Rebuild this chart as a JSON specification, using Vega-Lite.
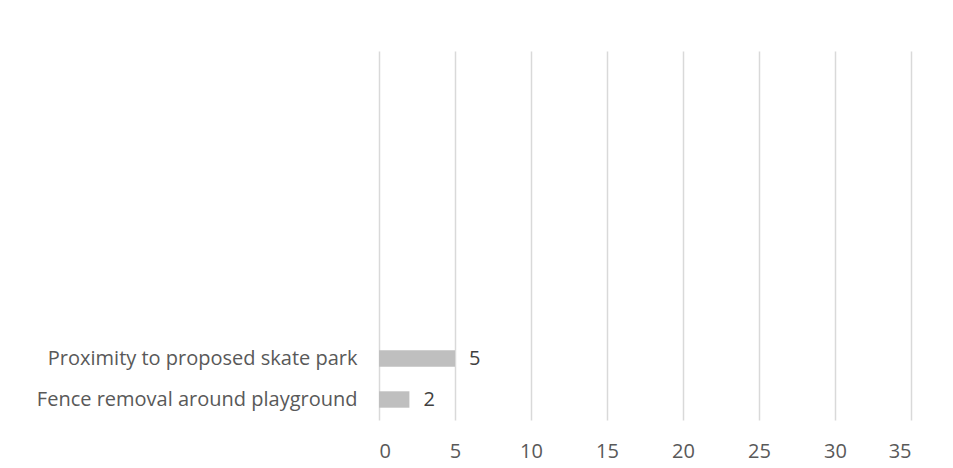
{
  "$schema": "https://vega.github.io/schema/vega-lite/v6.json",
  "autosize": {"type": "none"},
  "padding": {"left": 379, "top": 51, "right": 42, "bottom": 48},
  "width": 532,
  "height": 369,
  "background": "white",
  "config": {
    "view": {"stroke": null},
    "font": "Open Sans"
  },
  "data": {
    "values": [
      {"category": "Proximity to proposed skate park", "count": 5},
      {"category": "Fence removal around playground", "count": 2}
    ]
  },
  "encoding": {
    "y": {
      "field": "category",
      "type": "nominal",
      "sort": null,
      "scale": {
        "domain": ["_1", "_2", "_3", "_4", "_5", "_6", "_7", "Proximity to proposed skate park", "Fence removal around playground"],
        "paddingInner": 0.6,
        "paddingOuter": 0.3
      },
      "axis": {
        "title": null,
        "domain": false,
        "ticks": false,
        "labelPadding": 22,
        "labelFontSize": 20,
        "labelColor": "#595959",
        "labelLimit": 400,
        "labelExpr": "substring(datum.value,0,1)=='_' ? '' : datum.value"
      }
    },
    "x": {
      "field": "count",
      "type": "quantitative",
      "scale": {"domain": [0, 35], "nice": false},
      "axis": {
        "title": null,
        "domain": false,
        "ticks": false,
        "values": [0, 5, 10, 15, 20, 25, 30, 35],
        "labelPadding": 21,
        "labelFontSize": 20,
        "labelColor": "#595959",
        "grid": true,
        "gridColor": "#d9d9d9",
        "gridWidth": 1.5
      }
    }
  },
  "layer": [
    {"mark": {"type": "bar", "color": "#bfbfbf"}},
    {"mark": {"type": "text", "align": "left", "baseline": "middle", "dx": 14, "fontSize": 20, "color": "#404040"}, "encoding": {"text": {"field": "count", "type": "quantitative"}}}
  ]
}
